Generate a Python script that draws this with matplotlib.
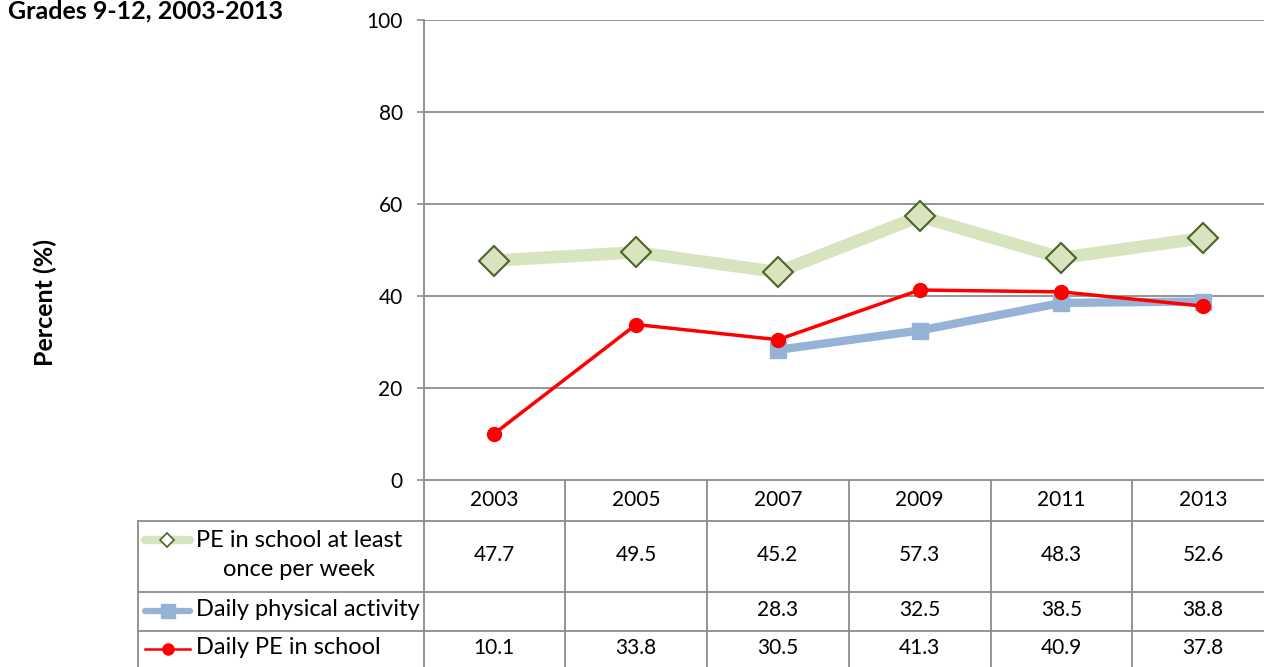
import matplotlib.pyplot as plt
from matplotlib.lines import Line2D
from matplotlib.transforms import blended_transform_factory

# Data
years = ["2003", "2005", "2007", "2009", "2011", "2013"]
pe_weekly = [47.7, 49.5, 45.2, 57.3, 48.3, 52.6]
daily_activity = [None, None, 28.3, 32.5, 38.5, 38.8]
daily_pe = [10.1, 33.8, 30.5, 41.3, 40.9, 37.8]
series_names = ["PE in school at least\nonce per week", "Daily physical activity", "Daily PE in school"]

W, H = 1264, 667
plt.rcParams['font.family'] = ['Lato', 'DejaVu Sans']
FS_NUM = 15
FS_LAB = 17
FS_BOLD = 18

GREEN, GREEN_EDGE = "#D7E4BD", "#4F6228"
BLUE = "#95B3D7"
RED = "#FF0000"
GRID = "#8C8C8C"

fig = plt.figure(figsize=(W / 100, H / 100), dpi=100)
ax = fig.add_axes([423.5 / W, 1 - 480 / H, (1274 - 423.5) / W, 460 / H])

x = list(range(len(years)))

def fy(py):
    return 1 - py / H

def fx(px):
    return px / W

# Lines
ax.plot(x, pe_weekly, color=GREEN, lw=9, marker="D", ms=15, mfc=GREEN, mec=GREEN_EDGE,
        mew=1.5, zorder=3, clip_on=False, solid_joinstyle="round")
act_x = [i for i, v in zip(x, daily_activity) if v is not None]
act_y = [v for v in daily_activity if v is not None]
ax.plot(act_x, act_y, color=BLUE, lw=6, marker="s", ms=12, mfc=BLUE, mec=BLUE,
        zorder=4, clip_on=False)
ax.plot(x, daily_pe, color=RED, lw=2.5, marker="o", ms=10, mfc=RED, mec=RED,
        zorder=5, clip_on=False)

ax.set_xlim(-0.5, 5.5)
ax.set_ylim(0, 100)
ax.set_yticks(range(0, 101, 20))
ax.set_xticks([])
ax.tick_params(axis="y", length=5, width=1.2, color=GRID, pad=10, labelsize=FS_NUM)
for yv in range(20, 101, 20):
    ax.axhline(yv, color=GRID, lw=1.3, zorder=1)
for s in ["top", "right", "bottom"]:
    ax.spines[s].set_visible(False)
ax.spines["left"].set_color(GRID)
ax.spines["left"].set_linewidth(1.3)

# Data table below the axis
tr = blended_transform_factory(ax.transData, fig.transFigure)
lkw = dict(color=GRID, lw=1.3, clip_on=False)
fig.add_artist(Line2D([fx(423.5), fx(1274)], [fy(480), fy(480)], **lkw))
for py in [520.5, 591.5, 630.5]:
    fig.add_artist(Line2D([fx(138), fx(1274)], [fy(py), fy(py)], **lkw))
fig.add_artist(Line2D([fx(138), fx(138)], [fy(520.5), fy(H + 5)], **lkw))
for b in range(len(years) + 1):
    xb = b - 0.5
    fig.add_artist(Line2D([xb, xb], [fy(480), fy(H + 5)], transform=tr, **lkw))

rows_y = [555, 610, 648]
for i, yr in enumerate(years):
    fig.text(i, fy(500), yr, transform=tr, ha="center", va="center", fontsize=FS_NUM)
    for vals, ry in zip([pe_weekly, daily_activity, daily_pe], rows_y):
        if vals[i] is not None:
            fig.text(i, fy(ry), f"{vals[i]:.1f}", transform=tr, ha="center", va="center",
                     fontsize=FS_NUM)

# Legend keys in the first column
fig.add_artist(Line2D([fx(145), fx(190)], [fy(540), fy(540)], color=GREEN, lw=6,
                      solid_capstyle="round", transform=fig.transFigure))
fig.add_artist(Line2D([fx(167)], [fy(540)], marker="D", ms=7, mfc="white", mec=GREEN_EDGE,
                      mew=1.2, transform=fig.transFigure))
fig.add_artist(Line2D([fx(145), fx(190)], [fy(611), fy(611)], color=BLUE, lw=4.5,
                      solid_capstyle="round", transform=fig.transFigure))
fig.add_artist(Line2D([fx(168)], [fy(611)], marker="s", ms=10, mfc=BLUE, mec=BLUE,
                      transform=fig.transFigure))
fig.add_artist(Line2D([fx(145), fx(190)], [fy(649), fy(649)], color=RED, lw=1.8,
                      transform=fig.transFigure))
fig.add_artist(Line2D([fx(168)], [fy(649)], marker="o", ms=8, mfc=RED, mec=RED,
                      transform=fig.transFigure))

fig.text(fx(299), fy(555), series_names[0], ha="center", va="center", fontsize=FS_LAB,
         linespacing=1.45)
fig.text(fx(196), fy(610), series_names[1], ha="left", va="center", fontsize=FS_LAB)
fig.text(fx(196), fy(648), series_names[2], ha="left", va="center", fontsize=FS_LAB)

# Titles
fig.text(fx(8), fy(18), "Grades 9-12, 2003-2013", fontsize=FS_BOLD, fontweight="bold",
         va="baseline")
fig.text(fx(45), fy(302), "Percent (%)", fontsize=FS_BOLD, fontweight="bold", rotation=90,
         ha="center", va="center")

fig.savefig("out.png", dpi=100)
